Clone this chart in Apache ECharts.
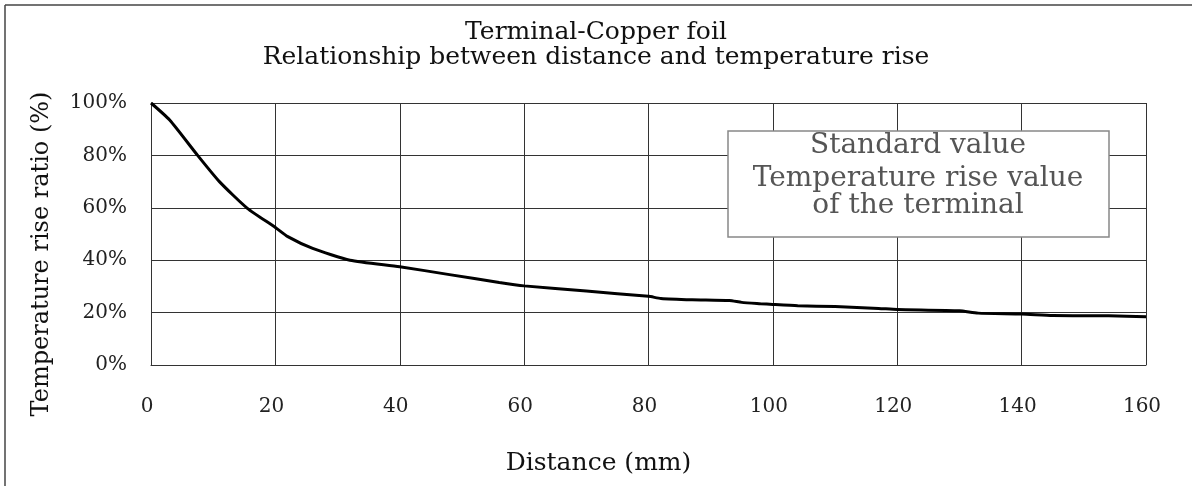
<!DOCTYPE html>
<html>
<head>
<meta charset="utf-8">
<script src="https://cdn.jsdelivr.net/npm/echarts@6/dist/echarts.min.js"></script>
<style>
html,body{margin:0;padding:0;background:#fff;}
#chart{width:1192px;height:486px;}
</style>
</head>
<body>
<div id="chart"></div>
<script>
const distance = [0, 3, 7.5, 11, 15.5, 20, 22, 26, 32, 40, 48, 56, 60, 70, 80, 82, 87, 93, 95, 98, 100, 104, 110, 117, 120, 130, 133, 140, 145, 154, 160];
const ratio = [100, 93.5, 80, 70, 59.8, 52.5, 49, 44.5, 40, 37.5, 34.5, 31.5, 30.2, 28.2, 26.2, 25.4, 24.9, 24.6, 23.9, 23.4, 23.1, 22.6, 22.3, 21.6, 21.2, 20.7, 19.8, 19.5, 18.9, 18.8, 18.4];
const xTicks = [0, 20, 40, 60, 80, 100, 120, 140, 160];
const yTicks = [0, 20, 40, 60, 80, 100];
const titleLines = ['Terminal-Copper foil', 'Relationship between distance and temperature rise'];
const noteLines = ['Standard value', 'Temperature rise value', 'of the terminal'];
const xName = 'Distance (mm)';
const yName = 'Temperature rise ratio (%)';

const FONT = '"DejaVu Serif", "Liberation Serif", serif';
const chart = echarts.init(document.getElementById('chart'), null, {renderer: 'canvas'});

const points = distance.map((d, i) => [d, ratio[i]]);

chart.setOption({
  animation: false,
  backgroundColor: '#fff',
  title: {
    text: titleLines.join('\n'),
    left: 'center',
    top: 15,
    textStyle: {fontFamily: FONT, fontSize: 25, fontWeight: 'normal', color: '#111', lineHeight: 25}
  },
  grid: {left: 151, right: 46, top: 103, bottom: 121},
  xAxis: {
    type: 'value',
    min: xTicks[0], max: xTicks[xTicks.length - 1], interval: 20,
    name: xName,
    nameLocation: 'middle',
    nameGap: 86,
    nameTextStyle: {fontFamily: FONT, fontSize: 25, color: '#111', padding: [0, 100, 0, 0]},
    axisLine: {show: true, lineStyle: {color: '#333', width: 1}},
    axisTick: {show: false},
    axisLabel: {fontFamily: FONT, fontSize: 20, color: '#222', margin: 32, padding: [0, 8, 0, 0]},
    splitLine: {show: true, lineStyle: {color: '#333', width: 1}}
  },
  yAxis: {
    type: 'value',
    min: yTicks[0], max: yTicks[yTicks.length - 1], interval: 20,
    name: yName,
    nameLocation: 'middle',
    nameGap: 97,
    nameTextStyle: {fontFamily: FONT, fontSize: 24, color: '#111', padding: [0, 40, 0, 0]},
    axisLine: {show: true, lineStyle: {color: '#333', width: 1}},
    axisTick: {show: false},
    axisLabel: {fontFamily: FONT, fontSize: 20, color: '#222', margin: 24, formatter: '{value}%'},
    splitLine: {show: true, lineStyle: {color: '#333', width: 1}}
  },
  series: [{
    type: 'line',
    data: points,
    smooth: 0.2,
    showSymbol: false,
    lineStyle: {color: '#000', width: 3}
  }],
  graphic: [
    {type: 'line', shape: {x1: 5, y1: 5, x2: 1192, y2: 5}, style: {stroke: '#444', lineWidth: 1.5}},
    {type: 'line', shape: {x1: 5, y1: 5, x2: 5, y2: 486}, style: {stroke: '#444', lineWidth: 1.5}},
    {type: 'rect', shape: {x: 728, y: 131, width: 381, height: 106}, style: {fill: '#fff', stroke: '#888', lineWidth: 1.5}, z: 100},
    {type: 'text', x: 918, y: 146, z: 101, style: {text: noteLines[0], fontFamily: FONT, fontSize: 28, fill: '#555', align: 'center', verticalAlign: 'middle'}},
    {type: 'text', x: 918, y: 179, z: 101, style: {text: noteLines[1], fontFamily: FONT, fontSize: 28, fill: '#555', align: 'center', verticalAlign: 'middle'}},
    {type: 'text', x: 918, y: 206, z: 101, style: {text: noteLines[2], fontFamily: FONT, fontSize: 28, fill: '#555', align: 'center', verticalAlign: 'middle'}}
  ]
});
</script>
</body>
</html>
